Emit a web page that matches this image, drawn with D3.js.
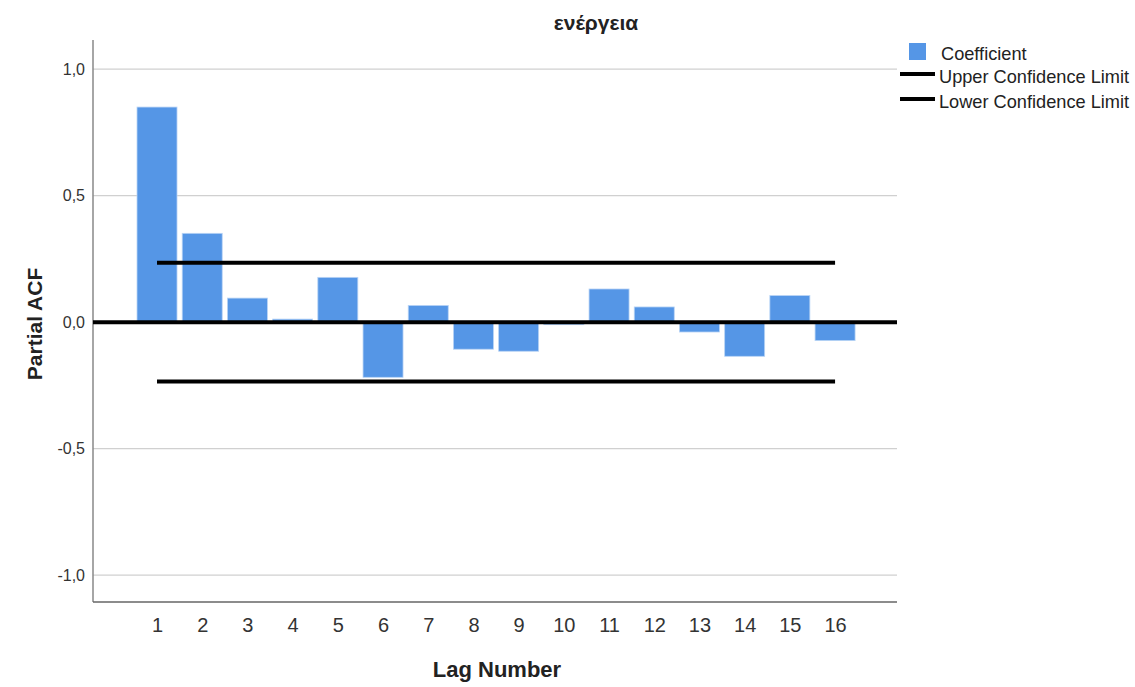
<!DOCTYPE html>
<html>
<head>
<meta charset="utf-8">
<script src="https://cdn.jsdelivr.net/npm/d3@7"></script>
<style>
  html, body { margin: 0; padding: 0; background: #fff; }
  svg { display: block; font-family: "Liberation Sans", Arial, sans-serif; }
</style>
</head>
<body>
<svg id="chart" width="1135" height="687"></svg>
<script>
// Partial autocorrelation coefficients by lag
const lags = [1, 2, 3, 4, 5, 6, 7, 8, 9, 10, 11, 12, 13, 14, 15, 16];
const coefficients = [0.850, 0.351, 0.095, 0.012, 0.177, -0.218, 0.066, -0.107,
                      -0.115, -0.010, 0.131, 0.060, -0.039, -0.135, 0.105, -0.073];
const upperLimit = [0.235, 0.235, 0.235, 0.235, 0.235, 0.235, 0.235, 0.235,
                    0.235, 0.235, 0.235, 0.235, 0.235, 0.235, 0.235, 0.235];
const lowerLimit = [-0.235, -0.235, -0.235, -0.235, -0.235, -0.235, -0.235, -0.235,
                    -0.235, -0.235, -0.235, -0.235, -0.235, -0.235, -0.235, -0.235];
const yTicks = [-1.0, -0.5, 0.0, 0.5, 1.0];
const legendLabels = ["Coefficient", "Upper Confidence Limit", "Lower Confidence Limit"];
const chartTitle = "ενέργεια";

const svg = d3.select("#chart");
const plot = { left: 93, right: 897, top: 40, bottom: 602 };

const x = d3.scaleLinear()
  .domain([-0.416, 17.37])
  .range([plot.left, plot.right]);
const y = d3.scaleLinear()
  .domain([-1.106, 1.115])
  .range([plot.bottom, plot.top]);

const step = x(2) - x(1);
const barW = step * 0.885;
// decimal comma and plain hyphen for negatives
const fmt = d => d.toFixed(1).replace(".", ",");

// gridlines
svg.append("g")
  .selectAll("line")
  .data(yTicks.filter(t => t !== 0))
  .join("line")
  .attr("x1", plot.left).attr("x2", plot.right)
  .attr("y1", d => y(d)).attr("y2", d => y(d))
  .attr("stroke", "#d0d0d0").attr("stroke-width", 1.3);

// y axis
const yAxis = svg.append("g")
  .attr("transform", `translate(${plot.left},0)`)
  .call(d3.axisLeft(y).tickValues(yTicks).tickFormat(fmt).tickSize(0).tickPadding(8));
yAxis.select(".domain").remove();
yAxis.selectAll("text").attr("font-size", 16).attr("fill", "#333")
  .attr("font-family", "Liberation Sans, Arial, sans-serif");

// x axis
const xAxis = svg.append("g")
  .attr("transform", `translate(0,${plot.bottom})`)
  .call(d3.axisBottom(x).tickValues(lags).tickFormat(d3.format("d")).tickSize(0).tickPadding(16));
xAxis.select(".domain").remove();
xAxis.selectAll("text").attr("font-size", 20).attr("fill", "#333")
  .attr("font-family", "Liberation Sans, Arial, sans-serif");

// axis lines
svg.append("line")
  .attr("x1", plot.left).attr("x2", plot.left)
  .attr("y1", plot.top).attr("y2", plot.bottom)
  .attr("stroke", "#888").attr("stroke-width", 1.5);
svg.append("line")
  .attr("x1", plot.left).attr("x2", plot.right)
  .attr("y1", plot.bottom).attr("y2", plot.bottom)
  .attr("stroke", "#666").attr("stroke-width", 1.5);

// bars
svg.append("g")
  .selectAll("rect")
  .data(lags.map((l, i) => ({ lag: l, v: coefficients[i] })))
  .join("rect")
  .attr("x", d => x(d.lag) - barW / 2)
  .attr("width", barW)
  .attr("y", d => Math.min(y(d.v), y(0)))
  .attr("height", d => Math.max(1, Math.abs(y(d.v) - y(0))))
  .attr("fill", "#5596e6")
  .attr("stroke", "#b9d4f5").attr("stroke-width", 0.8);

// zero reference line
svg.append("line")
  .attr("x1", plot.left).attr("x2", plot.right)
  .attr("y1", y(0)).attr("y2", y(0))
  .attr("stroke", "#000").attr("stroke-width", 4);

// confidence limits
const limitLine = d3.line().x(d => x(d[0])).y(d => y(d[1]));
[upperLimit, lowerLimit].forEach(arr => {
  svg.append("path")
    .datum(lags.map((l, i) => [l, arr[i]]))
    .attr("d", limitLine)
    .attr("fill", "none")
    .attr("stroke", "#000").attr("stroke-width", 4);
});

// title and axis titles
svg.append("text")
  .attr("x", 596).attr("y", 30)
  .attr("text-anchor", "middle")
  .attr("font-size", 21).attr("font-weight", "bold").attr("fill", "#222")
  .text(chartTitle);

svg.append("text")
  .attr("transform", "translate(42,324) rotate(-90)")
  .attr("text-anchor", "middle")
  .attr("font-size", 21).attr("font-weight", "bold").attr("fill", "#222")
  .text("Partial ACF");

svg.append("text")
  .attr("x", 497).attr("y", 677)
  .attr("text-anchor", "middle")
  .attr("font-size", 22).attr("font-weight", "bold").attr("fill", "#222")
  .text("Lag Number");

// legend
const lg = svg.append("g");
lg.append("rect")
  .attr("x", 909).attr("y", 43).attr("width", 17).attr("height", 17)
  .attr("fill", "#5596e6");
[74, 99].forEach(yy => {
  lg.append("line")
    .attr("x1", 900).attr("x2", 935)
    .attr("y1", yy).attr("y2", yy)
    .attr("stroke", "#000").attr("stroke-width", 4);
});
lg.selectAll("text")
  .data(legendLabels)
  .join("text")
  .attr("x", (d, i) => i === 0 ? 941 : 939)
  .attr("y", (d, i) => [60, 83, 108][i])
  .attr("font-size", 18.2).attr("fill", "#222")
  .text(d => d);
</script>
</body>
</html>
